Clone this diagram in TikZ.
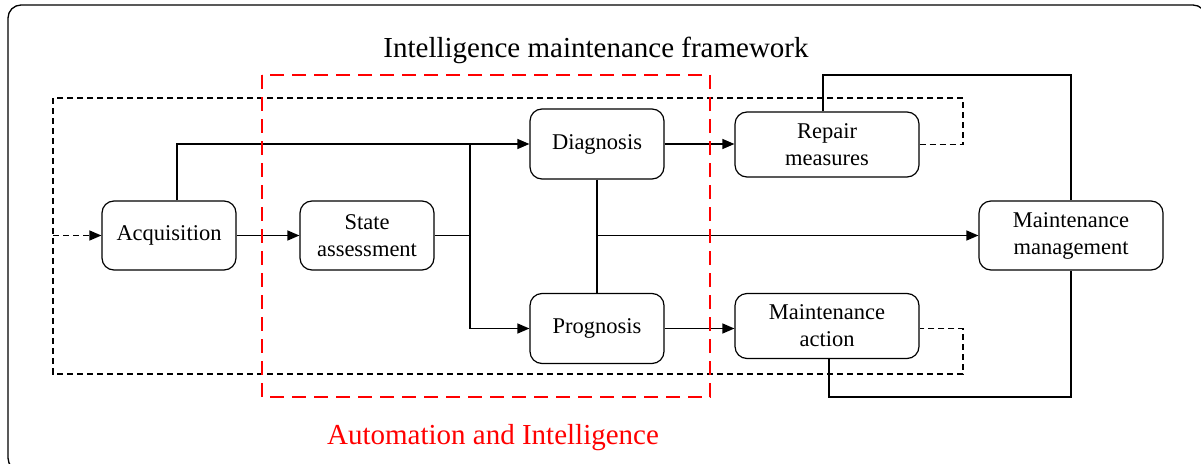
\documentclass[tikz,border=0pt]{standalone}
\usepackage{fontspec}
\setmainfont{LiberationSerif}[Extension=.ttf,UprightFont=*-Regular,BoldFont=*-Bold]
\usetikzlibrary{arrows.meta}
\begin{document}
\begin{tikzpicture}[x=1pt,y=-1pt,line width=1.3pt,
  box/.style={draw,line width=1.2pt,rounded corners=12pt,minimum width=134pt,minimum height=69pt,
    inner sep=0pt,align=center,font=\fontsize{22.5}{27}\selectfont},
  widebox/.style={box,minimum width=184pt,minimum height=65pt},
  arr/.style={-{Triangle[length=12pt,width=10pt]}},
  blackdash/.style={dash pattern=on 6pt off 4pt},
  reddash/.style={red,dash pattern=on 14pt off 8pt},
  bigtext/.style={font=\fontsize{29}{34}\selectfont,anchor=base}]
\useasboundingbox (0,0) rectangle (1201,463);

% outer frame
\draw[line width=1.3pt,rounded corners=13pt] (8,5) rectangle (1206,471);

% blocks
\node[box] (acq) at (169,235.5) {Acquisition};
\node[box] (sa) at (367,235.5) {State\\assessment};
\node[box,minimum height=70pt] (dia) at (597,144) {Diagnosis};
\node[box,minimum height=70pt] (pro) at (597,328.5) {Prognosis};
\node[widebox] (rep) at (827,144.5) {Repair\\measures};
\node[widebox] (act) at (827,326) {Maintenance\\action};
\node[widebox,minimum height=69pt] (mgt) at (1071,235.5) {Maintenance\\management};

% helper points
\coordinate (ta) at (177,144);
\coordinate (sj) at (470,235.5);
\coordinate (tr) at (1071,75);
\coordinate (br) at (1071,397);
\coordinate (d1) at (963,98);
\coordinate (d2) at (53,98);
\coordinate (d3) at (53,374);
\coordinate (d4) at (963,374);

% main flow
\draw[arr] (acq.east) -- (sa.west);
\draw[arr] (ta |- acq.north) -- (ta) -- (ta -| dia.west);
\draw (sa.east) -- (sj);
\draw[arr] (sj |- dia.west) -- (sj |- pro.west) -- (pro.west);
\draw (dia.south) -- (pro.north);
\draw[arr] (dia.south |- mgt.west) -- (mgt.west);
\draw[arr] (dia.east) -- (dia.east -| rep.west);
\draw[arr] (pro.east) -- (pro.east -| act.west);

% links to management
\draw ([xshift=-4pt]rep.north) |- (tr) -- (mgt.north);
\draw ([xshift=2pt]act.south) |- (br) -- (mgt.south);

% feedback loop
\draw[blackdash] (rep.east) -| (d1) -- (d2) -- (d3) -- (d4) |- (pro.east -| act.east);
\draw[blackdash,arr] (d2 |- acq.west) -- (acq.west);

% automation region
\draw[reddash] (262,75) rectangle (710,397);

% labels
\node[bigtext] (title) at (596,57) {Intelligence maintenance framework};
\node[bigtext,red] (auto) at (493,444) {Automation and Intelligence};
\end{tikzpicture}
\end{document}
